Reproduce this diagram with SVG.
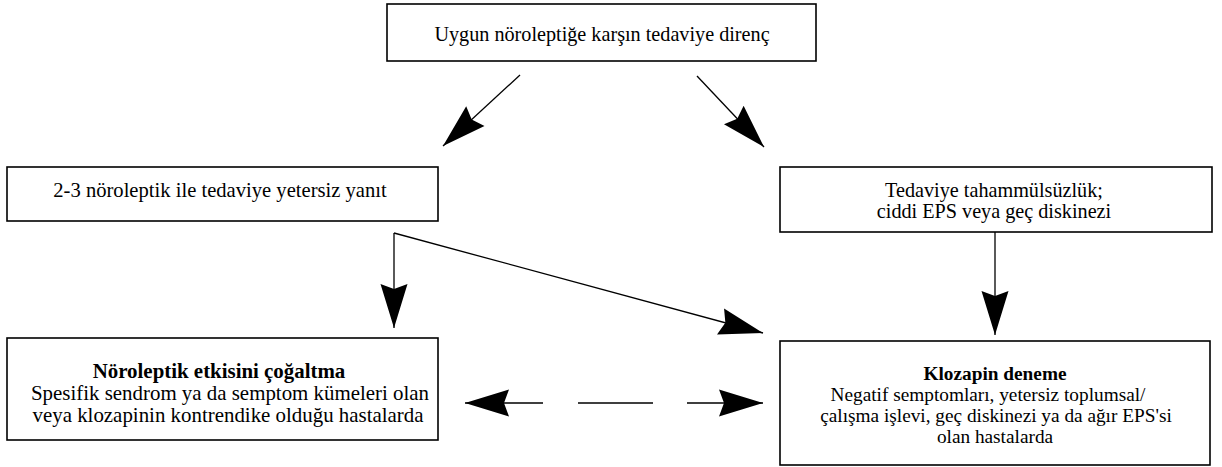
<svg xmlns="http://www.w3.org/2000/svg" width="1222" height="467" viewBox="0 0 1222 467">
<style>
.box{fill:#fff;stroke:#000;stroke-width:1.6}
.t{font-family:"Liberation Serif","Times New Roman",serif;font-size:19px;fill:#000;text-anchor:middle}
.b{font-weight:bold}
.s20{font-size:20.2px}
.s205{font-size:20.6px}
.s21{font-size:20.9px}
.s19{font-size:19.3px}
.c{fill:none;stroke:#000;stroke-width:1.3}
</style>
<defs>
<marker id="ah" markerUnits="userSpaceOnUse" markerWidth="50" markerHeight="32" viewBox="-46 -16 50 32" refX="0" refY="0" orient="auto-start-reverse">
<path d="M0,0 L-44,-13.5 L-39,0 L-44,13.5 Z" fill="#000"/>
</marker>
</defs>
<rect width="1222" height="467" fill="#fff"/>
<g id="connectors">
<line class="c" x1="520" y1="75" x2="443" y2="146" marker-end="url(#ah)"/>
<line class="c" x1="697" y1="76" x2="764" y2="147" marker-end="url(#ah)"/>
<line class="c" x1="394" y1="233" x2="394" y2="328" marker-end="url(#ah)"/>
<line class="c" x1="394" y1="233" x2="763" y2="333" marker-end="url(#ah)"/>
<line class="c" x1="995" y1="232" x2="995" y2="335" marker-end="url(#ah)"/>
<line class="c" x1="465" y1="403" x2="763" y2="403" stroke-dasharray="78 35 75 34 76" marker-start="url(#ah)" marker-end="url(#ah)"/>
</g>
<g id="n_top">
<rect class="box" x="387" y="4" width="429" height="57"/>
<text class="t s20" x="602" y="41">Uygun nöroleptiğe karşın tedaviye direnç</text>
</g>
<g id="n_midleft">
<rect class="box" x="7" y="167" width="431" height="54"/>
<text class="t s205" x="220" y="197">2-3 nöroleptik ile tedaviye yetersiz yanıt</text>
</g>
<g id="n_midright">
<rect class="box" x="780" y="167" width="432" height="65"/>
<text class="t s20" x="994" y="197">Tedaviye tahammülsüzlük;</text>
<text class="t s20" x="994" y="218">ciddi EPS veya geç diskinezi</text>
</g>
<g id="n_botleft">
<rect class="box" x="7" y="338" width="431" height="102"/>
<text class="t b s21" x="219" y="378">Nöroleptik etkisini çoğaltma</text>
<text class="t s21" x="230" y="400">Spesifik sendrom ya da semptom kümeleri olan</text>
<text class="t s21" x="228" y="422">veya klozapinin kontrendike olduğu hastalarda</text>
</g>
<g id="n_botright">
<rect class="box" x="780" y="341" width="430" height="124"/>
<text class="t b s19" x="995" y="380">Klozapin deneme</text>
<text class="t s19" x="988" y="401">Negatif semptomları, yetersiz toplumsal/</text>
<text class="t s19" x="996" y="422">çalışma işlevi, geç diskinezi ya da ağır EPS'si</text>
<text class="t s19" x="995" y="443">olan hastalarda</text>
</g>
</svg>
